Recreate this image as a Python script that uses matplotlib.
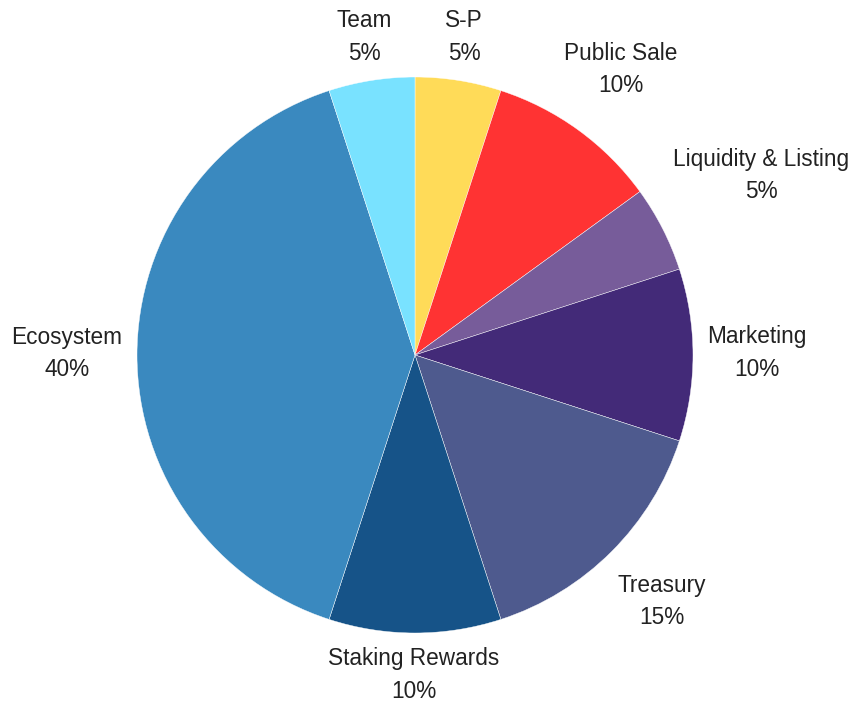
import matplotlib.pyplot as plt

plt.rcParams['font.family'] = ['Liberation Sans', 'DejaVu Sans']

# token allocation, clockwise from 12 o'clock
labels = ['S-P', 'Public Sale', 'Liquidity & Listing', 'Marketing',
          'Treasury', 'Staking Rewards', 'Ecosystem', 'Team']
shares = [5, 10, 5, 10, 15, 10, 40, 5]
colors = ['#FFDB58', '#FF3333', '#775C9A', '#432A78',
          '#4E5A8E', '#165388', '#3A89BF', '#79E2FF']

# label anchors in pixel space (x, y measured from top)
label_pos = [(464, 27), (621, 60), (761, 166), (757, 343),
             (662, 592), (414, 665), (67, 344), (364, 27)]

W, H = 855, 702
fig = plt.figure(figsize=(W / 100, H / 100), dpi=100)
ax = fig.add_axes([0, 0, 1, 1])

ax.pie(shares, colors=colors, startangle=90, counterclock=False,
       center=(415, H - 355), radius=278,
       wedgeprops=dict(edgecolor='white', linewidth=0.3))

# pie() rescales the axes, so fix the pixel frame afterwards
ax.set_xlim(0, W)
ax.set_ylim(0, H)
ax.set_aspect('equal')
ax.axis('off')

for name, val, (x, y) in zip(labels, shares, label_pos):
    ax.text(x, H - y, name, ha='center', va='baseline', fontsize=16.3, color='#222222')
    ax.text(x, H - y - 32.5, f'{val}%', ha='center', va='baseline', fontsize=16.3, color='#222222')

fig.savefig('out.png', dpi=100, facecolor='white')
